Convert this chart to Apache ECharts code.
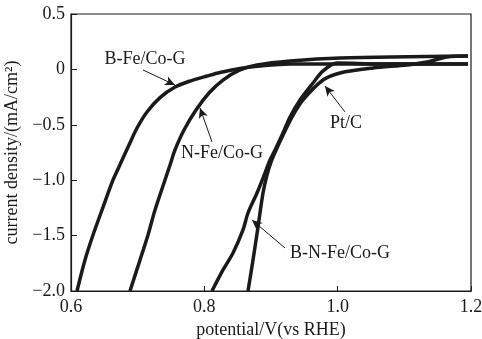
<!DOCTYPE html>
<html>
<head>
<meta charset="utf-8">
<script src="https://cdn.jsdelivr.net/npm/echarts@6/dist/echarts.min.js"></script>
<style>
  html, body { margin: 0; padding: 0; background: #fff; }
  #chart { width: 482px; height: 339px; }
</style>
</head>
<body>
<div id="chart"></div>
<script>
// Polarization curves: potential (V vs RHE) against current density (mA/cm²)
const xTicks = [0.6, 0.8, 1.0, 1.2];
const yTicks = [-2.0, -1.5, -1.0, -0.5, 0, 0.5];

const bFePotential = [0.609, 0.621, 0.633, 0.6465, 0.663, 0.6705, 0.678, 0.687, 0.699, 0.714, 0.7335, 0.756, 0.7785, 0.804, 0.8235, 0.8535, 0.8835, 0.9285, 1.1955];
const bFeCurrent   = [-2.0, -1.720, -1.495, -1.269, -0.998, -0.899, -0.800, -0.682, -0.529, -0.384, -0.255, -0.159, -0.105, -0.060, -0.028, 0.008, 0.031, 0.049, 0.049];

const nFePotential = [0.6885, 0.7035, 0.7155, 0.726, 0.741, 0.7485, 0.756, 0.7695, 0.7875, 0.807, 0.828, 0.8535, 0.879, 0.9285, 1.0035, 1.1955];
const nFeCurrent   = [-2.0, -1.720, -1.495, -1.269, -0.998, -0.863, -0.727, -0.547, -0.366, -0.213, -0.096, -0.005, 0.040, 0.076, 0.103, 0.121];

const bnFePotential = [0.8115, 0.828, 0.843, 0.858, 0.8655, 0.879, 0.891, 0.8985, 0.9075, 0.918, 0.9285, 0.9435, 0.963, 0.978, 0.999, 1.0635, 1.1955];
const bnFeCurrent   = [-2.0, -1.810, -1.657, -1.449, -1.296, -1.115, -0.935, -0.818, -0.709, -0.574, -0.430, -0.276, -0.123, -0.014, 0.058, 0.049, 0.049];

const ptcPotential = [0.8655, 0.873, 0.8805, 0.888, 0.894, 0.900, 0.909, 0.9195, 0.9315, 0.948, 0.978, 1.0035, 1.053, 1.104, 1.134, 1.164, 1.1955];
const ptcCurrent   = [-2.0, -1.720, -1.422, -1.115, -0.953, -0.836, -0.709, -0.574, -0.430, -0.276, -0.096, -0.032, 0.013, 0.040, 0.067, 0.112, 0.121];

const seriesNames = ['B-Fe/Co-G', 'N-Fe/Co-G', 'B-N-Fe/Co-G', 'Pt/C'];

function pairs(xs, ys) { return xs.map((x, i) => [x, ys[i]]); }
function fmt(v) {
  if (Math.abs(v) < 1e-9) return '0';
  return v.toFixed(1).replace('-', '\u2212');
}

const FONT = 'Liberation Serif';
const INK = '#1a1a1a';

// Callout: a label with an arrow pointing at its curve (data coordinates)
function callout(text, labelAt, from, to) {
  return {
    markLine: {
      silent: true,
      symbol: ['none', 'arrow'],
      symbolSize: [7, 10],
      lineStyle: { color: INK, width: 1, type: 'solid' },
      label: { show: false },
      data: [[{ coord: from }, { coord: to }]]
    },
    markPoint: {
      silent: true,
      symbol: 'circle',
      symbolSize: 0,
      label: {
        show: true, position: 'inside', formatter: text,
        fontFamily: FONT, fontSize: 18, color: INK
      },
      data: [{ coord: labelAt }]
    }
  };
}

const curves = [
  [bFePotential, bFeCurrent, callout(seriesNames[0], [0.711, 0.09], [0.708, -0.005], [0.756, -0.141])],
  [nFePotential, nFeCurrent, callout(seriesNames[1], [0.8265, -0.754], [0.8115, -0.655], [0.7935, -0.348])],
  [bnFePotential, bnFeCurrent, callout(seriesNames[2], [1.0035, -1.657], [0.921, -1.612], [0.8715, -1.359])],
  [ptcPotential, ptcCurrent, callout(seriesNames[3], [1.0125, -0.49], [1.011, -0.384], [0.981, -0.150])]
];

const chart = echarts.init(document.getElementById('chart'), null, { renderer: 'canvas' });
chart.setOption({
  animation: false,
  backgroundColor: '#fff',
  grid: {
    left: 71, right: 11, top: 14, bottom: 48,
    outerBoundsMode: 'none',
    containLabel: false,
    show: true, borderColor: INK, borderWidth: 1.2, backgroundColor: 'transparent'
  },
  xAxis: {
    type: 'value', min: xTicks[0], max: xTicks[xTicks.length - 1], interval: 0.2,
    name: 'potential/V(vs RHE)', nameLocation: 'middle', nameGap: 28,
    nameTextStyle: { fontFamily: FONT, fontSize: 18, color: INK },
    axisLine: { show: true, onZero: false, lineStyle: { color: INK, width: 1.2 } },
    axisTick: { show: true, inside: true, length: 5, lineStyle: { color: INK, width: 1 } },
    axisLabel: { fontFamily: FONT, fontSize: 18, color: INK, margin: 7, formatter: fmt, showMinLabel: true, showMaxLabel: true },
    splitLine: { show: false }
  },
  yAxis: {
    type: 'value', min: yTicks[0], max: yTicks[yTicks.length - 1], interval: 0.5,
    name: 'current density/(mA/cm\u00B2)', nameLocation: 'middle', nameGap: 46,
    nameTextStyle: { fontFamily: FONT, fontSize: 18, color: INK },
    axisLine: { show: true, onZero: false, lineStyle: { color: INK, width: 1.2 } },
    axisTick: { show: true, inside: true, length: 6, lineStyle: { color: INK, width: 1 } },
    axisLabel: { fontFamily: FONT, fontSize: 18, color: INK, margin: 6, formatter: fmt },
    splitLine: { show: false }
  },
  series: curves.map(([xs, ys, extra], i) => Object.assign({
    name: seriesNames[i],
    type: 'line',
    data: pairs(xs, ys),
    smooth: 0.3,
    showSymbol: false,
    clip: true,
    lineStyle: { color: INK, width: 3.5 },
    itemStyle: { color: INK }
  }, extra))
});
</script>
</body>
</html>
